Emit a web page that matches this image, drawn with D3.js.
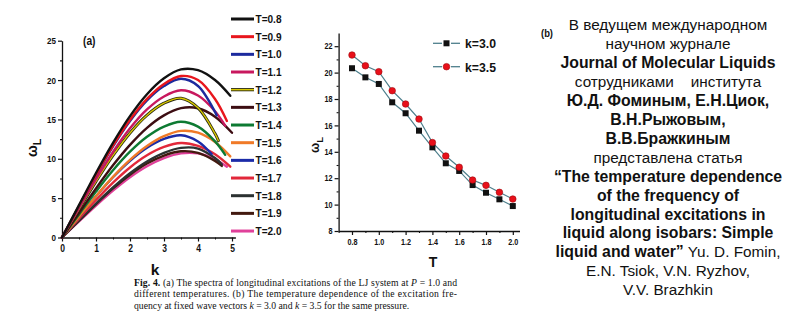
<!DOCTYPE html>
<html>
<head>
<meta charset="utf-8">
<script src="https://cdn.jsdelivr.net/npm/d3@7"></script>
<style>
  html, body { margin: 0; padding: 0; background: #ffffff; }
  svg { display: block; }
</style>
</head>
<body>
<svg id="chart" width="785" height="325"></svg>
<script>
// ---------- Panel (a): dispersion curves ω_L(k) for each temperature ----------
const temps = ["0.8", "0.9", "1.0", "1.1", "1.2", "1.3", "1.4", "1.5", "1.6", "1.7", "1.8", "1.9", "2.0"];
const kGrid = [0, 0.5, 1, 1.5, 2, 2.5, 3, 3.5, 4, 4.5];
// last wave vector of every curve
const kEnd = [4.95, 4.85, 4.55, 4.8, 4.6, 5.0, 4.8, 4.95, 4.4, 4.95, 4.7, 4.7, 4.85];
// ω_L at the kGrid points below kEnd, followed by the value at kEnd
const omegaT08 = [0, 4.11, 8.19, 12.02, 15.42, 18.20, 20.22, 21.35, 21.25, 20.0, 18.0];
const omegaT09 = [0, 4.00, 7.95, 11.66, 14.94, 17.60, 19.50, 20.51, 20.0, 17.6, 14.8];
const omegaT10 = [0, 3.97, 7.90, 11.58, 14.81, 17.42, 19.24, 20.16, 19.25, 15.96, 15.5];
const omegaT11 = [0, 3.73, 7.42, 10.86, 13.87, 16.27, 17.92, 18.70, 18.03, 16.04, 14.2];
const omegaT12 = [0, 3.58, 7.12, 10.42, 13.28, 15.54, 17.06, 17.69, 16.47, 13.2, 12.3];
const omegaT13 = [0, 3.13, 6.24, 9.17, 11.77, 13.93, 15.51, 16.43, 16.42, 15.35, 13.3];
const omegaT14 = [0, 2.93, 5.83, 8.54, 10.90, 12.79, 14.09, 14.70, 14.08, 12.21, 10.5];
const omegaT15 = [0, 2.64, 5.25, 7.70, 9.86, 11.62, 12.87, 13.54, 13.31, 12.13, 10.3];
const omegaT16 = [0, 2.63, 5.23, 7.65, 9.75, 11.41, 12.53, 12.99, 12.2, 10.6];
const omegaT17 = [0, 2.40, 4.76, 6.97, 8.90, 10.44, 11.50, 12.00, 11.64, 10.57, 9.0];
const omegaT18 = [0, 2.17, 4.32, 6.35, 8.16, 9.65, 10.75, 11.38, 11.30, 10.09, 9.3];
const omegaT19 = [0, 2.14, 4.25, 6.23, 7.98, 9.40, 10.41, 10.95, 10.75, 9.73, 9.1];
const omegaT20 = [0, 2.04, 4.06, 5.96, 7.66, 9.06, 10.09, 10.69, 10.68, 9.93, 9.0];
const spectra = [omegaT08, omegaT09, omegaT10, omegaT11, omegaT12, omegaT13, omegaT14,
                 omegaT15, omegaT16, omegaT17, omegaT18, omegaT19, omegaT20];
const kTicks = [0, 1, 2, 3, 4, 5];
const omegaTicksA = [0, 5, 10, 15, 20, 25];

// ---------- Panel (b): ω_L(T) at fixed k ----------
const tempValues = [0.8, 0.9, 1.0, 1.1, 1.2, 1.3, 1.4, 1.5, 1.6, 1.7, 1.8, 1.9, 2.0];
const omegaK30 = [20.33, 19.64, 19.14, 17.75, 16.92, 15.60, 14.34, 13.13, 12.55, 11.48, 10.90, 10.40, 9.89];
const omegaK35 = [21.33, 20.52, 20.07, 18.63, 17.62, 16.48, 14.70, 13.68, 12.83, 11.86, 11.46, 10.93, 10.42];
const tTicks = [0.8, 1.0, 1.2, 1.4, 1.6, 1.8, 2.0];
const omegaTicksB = [8, 10, 12, 14, 16, 18, 20, 22];

// ---------- Announcement text ----------
const noteLines = [
  [["В ведущем международном", false]],
  [["научном журнале", false]],
  [["Journal of Molecular Liquids", true]],
  [["сотрудниками\u00a0\u00a0\u00a0 института", false]],
  [["Ю.Д. Фоминым, Е.Н.Циок,", true]],
  [["В.Н.Рыжовым,", true]],
  [["В.В.Бражкиным", true]],
  [["представлена статья", false]],
  [["“The temperature dependence", true]],
  [["of the frequency of", true]],
  [["longitudinal excitations in", true]],
  [["liquid along isobars: Simple", true]],
  [["liquid and water”", true], [" Yu. D. Fomin,", false]],
  [["E.N. Tsiok, V.N. Ryzhov,", false]],
  [["V.V. Brazhkin", false]]
];

const curveColors = ["#111111", "#e8161d", "#1c2a9e", "#c8185e", "#d9c900", "#3c0d12", "#0d7a32",
                     "#f07a28", "#1b2ba8", "#e2283a", "#2b3131", "#42190f", "#e0409a"];

const NARROW = '"Liberation Sans Narrow", "Arial Narrow", "Liberation Sans", Arial, sans-serif';
const SANS = '"Liberation Sans", Arial, sans-serif';
const SERIF = '"Liberation Serif", "Times New Roman", serif';
const INK = "#111111";

const svg = d3.select("#chart");

// squeeze a bold label to a condensed width
function condensed(sel, width) {
  sel.attr("textLength", width).attr("lengthAdjust", "spacingAndGlyphs");
  return sel;
}
function styleAxis(g, size, narrowFactor) {
  g.attr("font-family", NARROW).attr("font-weight", "bold").attr("font-size", size);
  g.select(".domain").attr("stroke", INK).attr("stroke-width", 1.3);
  g.selectAll(".tick line").attr("stroke", INK).attr("stroke-width", 1.2);
  g.selectAll(".tick text").attr("fill", INK).each(function () {
    const w = this.getComputedTextLength();
    condensed(d3.select(this), w * narrowFactor);
  });
}
function minorTicks(g) {
  g.select(".domain").remove();
  g.selectAll(".tick line").attr("stroke", INK).attr("stroke-width", 1.1);
}

// ===== Panel (a) =====
const xA = d3.scaleLinear().domain([0, 5.1]).range([62, 235.4]);
const yA = d3.scaleLinear().domain([0, 25]).range([237.5, 40.7]);
const gA = svg.append("g");

gA.append("g").attr("transform", `translate(${xA(0)},0)`)
  .call(d3.axisLeft(yA).tickValues(omegaTicksA).tickSize(4).tickPadding(2).tickSizeOuter(0).tickFormat(d3.format("d")))
  .call(styleAxis, 9.5, 0.85);
gA.append("g").attr("transform", `translate(${xA(0)},0)`)
  .call(d3.axisLeft(yA).tickValues(d3.range(2.5, 25, 5)).tickSize(2).tickFormat(""))
  .call(minorTicks);
gA.append("g").attr("transform", `translate(0,${yA(0)})`)
  .call(d3.axisBottom(xA).tickValues(kTicks).tickSize(4).tickPadding(3).tickSizeOuter(0).tickFormat(d3.format("d")))
  .call(styleAxis, 10, 0.85);
gA.append("g").attr("transform", `translate(0,${yA(0)})`)
  .call(d3.axisBottom(xA).tickValues(d3.range(0.5, 5, 1)).tickSize(2).tickFormat(""))
  .call(minorTicks);

const lineA = d3.line().x(d => xA(d[0])).y(d => yA(d[1])).curve(d3.curveCatmullRom.alpha(0.5));
const curves = spectra.map((vals, i) => {
  const ks = kGrid.filter(k => k < kEnd[i] - 0.01).concat([kEnd[i]]);
  return { i, pts: ks.map((k, j) => [k, vals[j]]) };
});
// curves for the highest temperatures underneath, the coldest on top
const curveLayer = gA.append("g").attr("fill", "none").attr("stroke-linecap", "round");
curves.slice().reverse().forEach(c => {
  if (c.i === 4) {
    curveLayer.append("path").attr("d", lineA(c.pts)).attr("stroke", "#2a2a10").attr("stroke-width", 3);
    curveLayer.append("path").attr("d", lineA(c.pts)).attr("stroke", curveColors[c.i]).attr("stroke-width", 1.3);
  } else {
    curveLayer.append("path").attr("d", lineA(c.pts)).attr("stroke", curveColors[c.i]).attr("stroke-width", 2.4);
  }
});

// legend of panel (a)
const legA = gA.append("g");
temps.forEach((t, i) => {
  const y = 19 + i * 17.67;
  if (i === 4) {
    legA.append("line").attr("x1", 231).attr("x2", 254).attr("y1", y).attr("y2", y)
      .attr("stroke", "#2a2a10").attr("stroke-width", 3.2);
    legA.append("line").attr("x1", 231).attr("x2", 254).attr("y1", y).attr("y2", y)
      .attr("stroke", curveColors[i]).attr("stroke-width", 1.4);
  } else {
    legA.append("line").attr("x1", 231).attr("x2", 254).attr("y1", y).attr("y2", y)
      .attr("stroke", curveColors[i]).attr("stroke-width", 3);
  }
  legA.append("text").attr("x", 255.5).attr("y", y + 4)
    .attr("font-family", NARROW).attr("font-weight", "bold").attr("font-size", 11.5)
    .attr("fill", INK).text("T=" + t).call(condensed, 26);
});

gA.append("text").attr("x", 83).attr("y", 45).attr("font-family", NARROW).attr("font-weight", "bold")
  .attr("font-size", 12.5).attr("fill", INK).text("(a)").call(condensed, 12.5);
gA.append("text").attr("x", 155).attr("y", 275).attr("text-anchor", "middle")
  .attr("font-family", NARROW).attr("font-weight", "bold").attr("font-size", 15.5).attr("fill", INK).text("k");
const ylabA = gA.append("text").attr("transform", "translate(37,157) rotate(-90)")
  .attr("font-family", SANS).attr("font-weight", "bold").attr("font-size", 14).attr("fill", INK);
ylabA.append("tspan").text("ω");
ylabA.append("tspan").attr("dy", 4).attr("font-size", 11).text("L");

// ===== Panel (b) =====
const xB = d3.scaleLinear().domain([0.7, 2.05]).range([338.6, 519.5]);
const yB = d3.scaleLinear().domain([8, 23]).range([231, 33]);
const gB = svg.append("g");

gB.append("g").attr("transform", `translate(${xB(0.7)},0)`)
  .call(d3.axisLeft(yB).tickValues(omegaTicksB).tickSize(4).tickPadding(2).tickSizeOuter(0))
  .call(styleAxis, 8.5, 0.85);
gB.append("g").attr("transform", `translate(${xB(0.7)},0)`)
  .call(d3.axisLeft(yB).tickValues(d3.range(9, 23, 2)).tickSize(2).tickFormat(""))
  .call(minorTicks);
gB.append("g").attr("transform", `translate(0,${yB(8)})`)
  .call(d3.axisBottom(xB).tickValues(tTicks).tickSize(4).tickPadding(4).tickSizeOuter(0).tickFormat(d3.format(".1f")))
  .call(styleAxis, 8.5, 0.85);
gB.append("g").attr("transform", `translate(0,${yB(8)})`)
  .call(d3.axisBottom(xB).tickValues([0.7, 0.9, 1.1, 1.3, 1.5, 1.7, 1.9]).tickSize(2).tickFormat(""))
  .call(minorTicks);

const TEAL = "#4d7f8c";
const lineB = d3.line().x(d => xB(d[0])).y(d => yB(d[1]));
const s30 = tempValues.map((t, i) => [t, omegaK30[i]]);
const s35 = tempValues.map((t, i) => [t, omegaK35[i]]);
gB.append("path").attr("d", lineB(s30)).attr("fill", "none").attr("stroke", TEAL).attr("stroke-width", 1.2);
gB.append("path").attr("d", lineB(s35)).attr("fill", "none").attr("stroke", TEAL).attr("stroke-width", 1.2);
gB.selectAll("rect.k30").data(s30).join("rect").attr("class", "k30")
  .attr("x", d => xB(d[0]) - 3).attr("y", d => yB(d[1]) - 3).attr("width", 6).attr("height", 6).attr("fill", INK);
gB.selectAll("circle.k35").data(s35).join("circle").attr("class", "k35")
  .attr("cx", d => xB(d[0])).attr("cy", d => yB(d[1])).attr("r", 3.3)
  .attr("fill", "#e8101a").attr("stroke", "#a0080e").attr("stroke-width", 0.6);

// legend of panel (b)
const legB = gB.append("g");
[["k=3.0", "square"], ["k=3.5", "circle"]].forEach(([label, shape], i) => {
  const y = 43.3 + i * 23.4;
  legB.append("line").attr("x1", 433).attr("x2", 442).attr("y1", y).attr("y2", y).attr("stroke", TEAL).attr("stroke-width", 1.3);
  legB.append("line").attr("x1", 451).attr("x2", 460).attr("y1", y).attr("y2", y).attr("stroke", TEAL).attr("stroke-width", 1.3);
  if (shape === "square") {
    legB.append("rect").attr("x", 443.5).attr("y", y - 3).attr("width", 6).attr("height", 6).attr("fill", INK);
  } else {
    legB.append("circle").attr("cx", 446.5).attr("cy", y).attr("r", 3.3)
      .attr("fill", "#e8101a").attr("stroke", "#a0080e").attr("stroke-width", 0.6);
  }
  legB.append("text").attr("x", 465).attr("y", y + 5).attr("font-family", SANS).attr("font-weight", "bold")
    .attr("font-size", 13.5).attr("fill", INK).text(label).call(condensed, 31);
});

gB.append("text").attr("x", 433).attr("y", 267).attr("text-anchor", "middle")
  .attr("font-family", NARROW).attr("font-weight", "bold").attr("font-size", 14).attr("fill", INK).text("T");
const ylabB = gB.append("text").attr("transform", "translate(319,153) rotate(-90)")
  .attr("font-family", SANS).attr("font-weight", "bold").attr("font-size", 12).attr("fill", INK);
ylabB.append("tspan").text("ω");
ylabB.append("tspan").attr("dy", 3.5).attr("font-size", 9.5).text("L");

// ===== Figure caption (justified block, last line ragged) =====
const cap = svg.append("g").attr("font-family", SERIF).attr("font-size", 9.7).attr("fill", INK);
const c1 = cap.append("text").attr("x", 134).attr("y", 285.5)
  .attr("textLength", 323).attr("lengthAdjust", "spacing");
c1.append("tspan").attr("font-weight", "bold").text("Fig. 4.");
c1.append("tspan").text(" (a) The spectra of longitudinal excitations of the LJ system at ");
c1.append("tspan").attr("font-style", "italic").text("P");
c1.append("tspan").text(" = 1.0 and");
cap.append("text").attr("x", 134).attr("y", 297)
  .attr("textLength", 323).attr("lengthAdjust", "spacing")
  .text("different temperatures. (b) The temperature dependence of the excitation fre-");
const c3 = cap.append("text").attr("x", 134).attr("y", 308.5);
c3.append("tspan").text("quency at fixed wave vectors ");
c3.append("tspan").attr("font-style", "italic").text("k");
c3.append("tspan").text(" = 3.0 and ");
c3.append("tspan").attr("font-style", "italic").text("k");
c3.append("tspan").text(" = 3.5 for the same pressure.");

// ===== Announcement text =====
svg.append("text").attr("x", 541).attr("y", 36.5).attr("font-family", NARROW).attr("font-weight", "bold")
  .attr("font-size", 11).attr("fill", INK).text("(b)").call(condensed, 12);
const note = svg.append("g").attr("font-family", SANS).attr("font-size", 15.3).attr("fill", INK);
noteLines.forEach((segs, i) => {
  const t = note.append("text").attr("x", 668).attr("y", 30 + i * 18.95).attr("text-anchor", "middle");
  segs.forEach(([s, bold]) => t.append("tspan")
    .attr("font-weight", bold ? "bold" : "normal")
    .attr("font-size", bold ? 15.8 : 15.3)
    .text(s));
  const bb = t.node().getBBox();
  if (bb.x + bb.width > 783.5) t.attr("x", 668 - (bb.x + bb.width - 783.5));
});
</script>
</body>
</html>
